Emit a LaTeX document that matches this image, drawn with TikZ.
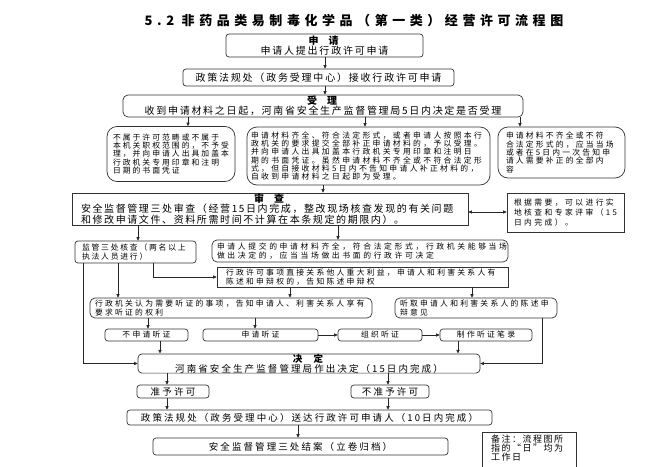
\documentclass[tikz,border=0pt]{standalone}
\usepackage{fontspec}
\setmainfont{Noto Sans CJK SC}
\usetikzlibrary{arrows.meta}
\newcommand\tf[3]{\fontsize{#1pt}{#2pt}\selectfont\addfontfeature{LetterSpace=#3}}
\begin{document}
\begin{tikzpicture}[x=1pt,y=-1pt,
  box/.style={draw=black!80, line width=0.7pt, inner ysep=0pt, inner xsep=0pt, text=black},
  rb/.style={box, rounded corners=3pt},
  arr/.style={draw=black!85, line width=0.7pt, -{Triangle[length=3.6pt,width=3.2pt]}},
  arrtwo/.style={draw=black!85, line width=0.7pt, {Triangle[length=3.6pt,width=3.2pt]}-{Triangle[length=3.6pt,width=3.2pt]}},
  smallbox/.style={rb, minimum height=12pt, font=\tf{7.8}{8.5}{29}},
  bottombox/.style={rb, font=\tf{9.5}{10}{22}}
]
\useasboundingbox (0,0) rectangle (650,466);
\clip (0,0) rectangle (650,466);

% title
\node[font=\tf{13}{15}{35}\bfseries, text=black] (title) at (354,21) {5.2 非药品类易制毒化学品（第一类）经营许可流程图};

% 申请
\node[rb, minimum width=197pt, minimum height=23pt, align=center, font=\tf{10}{10.5}{18}] (sq) at (324.5,45.5)
  {\textbf{申\hspace{1em}请}\\申请人提出行政许可申请};
\node[rb, minimum width=271pt, minimum height=17pt, font=\tf{10}{10.5}{18}] (b2) at (318.5,77.5)
  {政策法规处（政务受理中心）接收行政许可申请};

% 受理
\node[rb, rounded corners=5pt, minimum width=400pt, minimum height=22pt, align=center, font=\tf{10}{10}{17}] (sl) at (323,106)
  {\textbf{受\hspace{1em}理}\\收到申请材料之日起，河南省安全生产监督管理局5日内决定是否受理};

\node[rb, rounded corners=10pt, minimum height=55pt, inner xsep=6pt, text width=116pt, align=left, font=\tf{7.8}{8.4}{26}] (lf) at (171,154)
  {不属于许可范畴或不属于\\本机关职权范围的，不予受\\理，并向申请人出具加盖本\\行政机关专用印章和注明\\日期的书面凭证};
\node[rb, rounded corners=10pt, minimum height=58pt, inner xsep=4pt, text width=235pt, align=left, font=\tf{7.8}{8.3}{30}] (mid) at (368.5,156)
  {申请材料齐全、符合法定形式，或者申请人按照本行\\政机关的要求提交全部补正申请材料的，予以受理。\\并向申请人出具加盖本行政机关专用印章和注明日\\期的书面凭证。虽然申请材料不齐全或不符合法定形\\式，但自接收材料5日内不告知申请人补正材料的，\\自收到申请材料之日起即为受理。};
\node[rb, rounded corners=10pt, minimum height=51pt, inner xsep=8pt, text width=111pt, align=left, font=\tf{7.8}{8.4}{28}] (rt) at (561.5,152.5)
  {申请材料不齐全或不符\\合法定形式的，应当当场\\或者在5日内一次告知申\\请人需要补正的全部内\\容};

% 审查
\node[box, minimum width=396pt, minimum height=32pt, align=center, font=\tf{10}{9.2}{16}] (sc) at (270,209)
  {\textbf{审\hspace{1em}查}\\\makebox[378pt][l]{安全监督管理三处审查（经营15日内完成，整改现场核查发现的有关问题}\\\makebox[378pt][l]{和修改申请文件、资料所需时间不计算在本条规定的期限内）。}};
\node[box, minimum height=39pt, inner xsep=7pt, text width=103pt, align=left, font=\tf{7.8}{10}{31}] (nt) at (565.5,212.5)
  {根据需要，可以进行实\\地核查和专家评审（15\\日内完成）。};

\node[rb, minimum height=22pt, inner xsep=7pt, text width=107pt, align=left, font=\tf{7.8}{8.7}{23}] (jg) at (135.5,252)
  {监管三处核查（两名以上\\执法人员进行）};
\node[rb, rounded corners=5pt, minimum height=22pt, inner xsep=5pt, text width=286pt, align=left, font=\tf{7.8}{8.7}{34}] (dc) at (360,251)
  {申请人提交的申请材料齐全，符合法定形式，行政机关能够当场\\做出决定的，应当当场做出书面的行政许可决定};
\node[box, minimum height=20pt, inner xsep=9pt, text width=273pt, align=left, font=\tf{7.8}{8.7}{29}] (xk) at (362.5,277)
  {行政许可事项直接关系他人重大利益，申请人和利害关系人有\\陈述和申辩权的，告知陈述申辩权};
\node[rb, rounded corners=5pt, minimum height=20pt, inner xsep=5pt, text width=272pt, align=left, font=\tf{7.8}{8.7}{29}] (rw) at (231,308)
  {行政机关认为需要听证的事项，告知申请人、利害关系人享有\\要求听证的权利};
\node[rb, rounded corners=5pt, minimum height=20pt, inner xsep=5pt, text width=152pt, align=left, font=\tf{7.8}{8.7}{29}] (tq) at (476,308)
  {听取申请人和利害关系人的陈述申\\辩意见};

\node[smallbox, minimum width=83pt] (bt) at (146.5,335) {不申请听证};
\node[smallbox, minimum width=115pt] (sqt) at (260.5,335) {申请听证};
\node[smallbox, minimum width=84pt] (zz) at (380,335) {组织听证};
\node[smallbox, minimum width=92pt] (zl) at (486,335) {制作听证笔录};

% 决定
\node[rb, rounded corners=4pt, minimum width=342pt, minimum height=19pt, align=center, font=\tf{9.5}{9}{22}] (jd) at (309,363.5)
  {\textbf{决\hspace{1.2em}定}\\河南省安全生产监督管理局作出决定（15日内完成）};
\node[bottombox, minimum width=72pt, minimum height=13pt, font=\tf{9.5}{10}{23}] (zy) at (173,391.5) {准予许可};
\node[bottombox, minimum width=78pt, minimum height=13pt, font=\tf{9.5}{10}{23}] (bz) at (390,391.5) {不准予许可};
\node[bottombox, minimum width=365pt, minimum height=15pt] (sd) at (309.5,417.5) {政策法规处（政务受理中心）送达行政许可申请人（10日内完成）};
\node[bottombox, minimum width=295pt, minimum height=17pt] (ja) at (300.5,446.5) {安全监督管理三处结案（立卷归档）};
\node[box, minimum height=40pt, inner xsep=9pt, text width=76pt, align=left, font=\tf{9}{8.6}{17}] (bzh) at (529,452)
  {备注：流程图所\\指的“日”均为\\工作日\\\mbox{}};

% connector coordinates
\foreach \v in {325,188,365,520,323,138,338,83,118,153,290,472,542,148,255,160,458,167,388,298}
  {\coordinate (k\v) at (\v,0);}
\coordinate (y212) at (0,212);

\draw[arr] (sq.south -| k325) -- (b2.north -| k325);
\draw[arr] (b2.south -| k325) -- (sl.north -| k325);
\draw[arr] (sl.south -| k188) -- (lf.north -| k188);
\draw[arr] (sl.south -| k365) -- (mid.north -| k365);
\draw[arr] (sl.south -| k520) -- (rt.north -| k520);
\draw[arr] (mid.south -| k323) -- (sc.north -| k323);
\draw[arrtwo] (sc.east |- y212) -- (nt.west |- y212);
\draw[arr] (sc.south -| k138) -- (jg.north -| k138);
\draw[arr] (sc.south -| k338) -- (dc.north -| k338);
\draw[arr] (jg.south -| k83) |- (jd.west);
\draw[arr] (jg.south -| k118) -- (rw.north -| k118);
\draw[arr] (jg.south -| k153) |- (xk.west);
\draw[arr] (xk.south -| k290) -- (rw.north -| k290);
\draw[arr] (xk.south -| k472) -- (tq.north -| k472);
\draw[arr] (tq.south -| k542) |- (jd.east);
\draw[arr] (rw.south -| k148) -- (bt.north -| k148);
\draw[arr] (rw.south -| k255) -- (sqt.north -| k255);
\draw[arr] (sqt.east) -- (zz.west);
\draw[arr] (zz.east) -- (zl.west);
\draw[arr] (bt.south -| k160) -- (jd.north -| k160);
\draw[arr] (zl.south -| k458) -- (jd.north -| k458);
\draw[arr] (jd.south -| k167) -- (zy.north -| k167);
\draw[arr] (jd.south -| k388) -- (bz.north -| k388);
\draw[arr] (zy.south -| k167) -- (sd.north -| k167);
\draw[arr] (bz.south -| k388) -- (sd.north -| k388);
\draw[arr] (sd.south -| k298) -- (ja.north -| k298);
\end{tikzpicture}
\end{document}
